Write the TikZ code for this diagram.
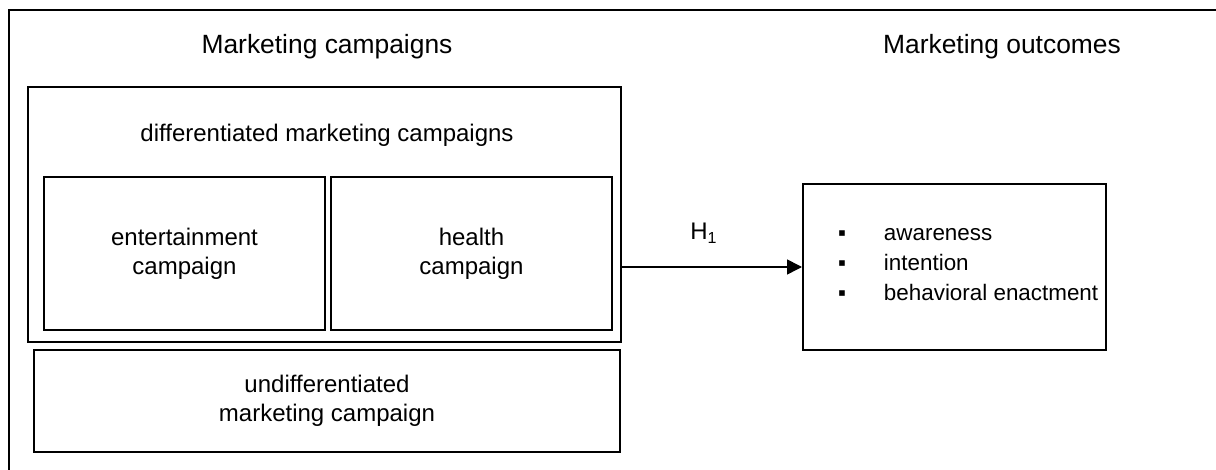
\documentclass[tikz,border=0pt]{standalone}
\usepackage{fontspec}
\setmainfont{Liberation Sans}
\usetikzlibrary{arrows.meta}
\begin{document}
\begin{tikzpicture}[x=0.5pt,y=-0.5pt]
    \tikzset{
        box/.style={draw,line width=1pt,inner sep=0pt},
        txt/.style={font=\fontsize{12}{14.5}\selectfont,align=center},
        ttl/.style={font=\fontsize{13.2}{15}\selectfont},}
    \useasboundingbox (0,0) rectangle (1216,470);
    % frame, only top and left are visible
    \draw [line width=1.4pt](9,470) -- (9,10) -- (1216,10);
    \node [ttl] (ttlcamp) at (327,47) {Marketing campaigns};
    \node [ttl] (ttlout) at (1002,47) {Marketing outcomes};
    \node [box,minimum width=296.5pt,minimum height=127.5pt] (diff) at (324.5,214.5) {};
    \node [txt] (difftxt) at (327,135) {differentiated marketing campaigns};
    \node [box,txt,minimum width=140.5pt,minimum height=76.5pt] (ent) at (184.5,253.5) {entertainment\\campaign};
    \node [box,txt,minimum width=140.5pt,minimum height=76.5pt] (hea) at (471.5,253.5) {health\\campaign};
    \node [box,txt,minimum width=293pt,minimum height=51pt] (undiff) at (327,401) {undifferentiated\\marketing campaign};
    \node [box,minimum width=151.5pt,minimum height=83pt] (out) at (954.5,267) {};
    \node [txt,font=\fontsize{11.2}{15}\selectfont,anchor=west] (outtxt) at (831,265) {%
        \begin{tabular}{@{}l@{\hspace{19pt}}l@{}}
        ▪ & awareness\\ ▪ & intention\\ ▪ & behavioral enactment
        \end{tabular}};
    \draw [line width=0.8pt,-{Triangle[length=7.5pt,width=7.5pt]}] (diff.east |- out.west) -- (out.west)
        node [txt,midway,above=8pt,xshift=-4pt] (hyp) {H\textsubscript{1}};
\end{tikzpicture}
\end{document}
